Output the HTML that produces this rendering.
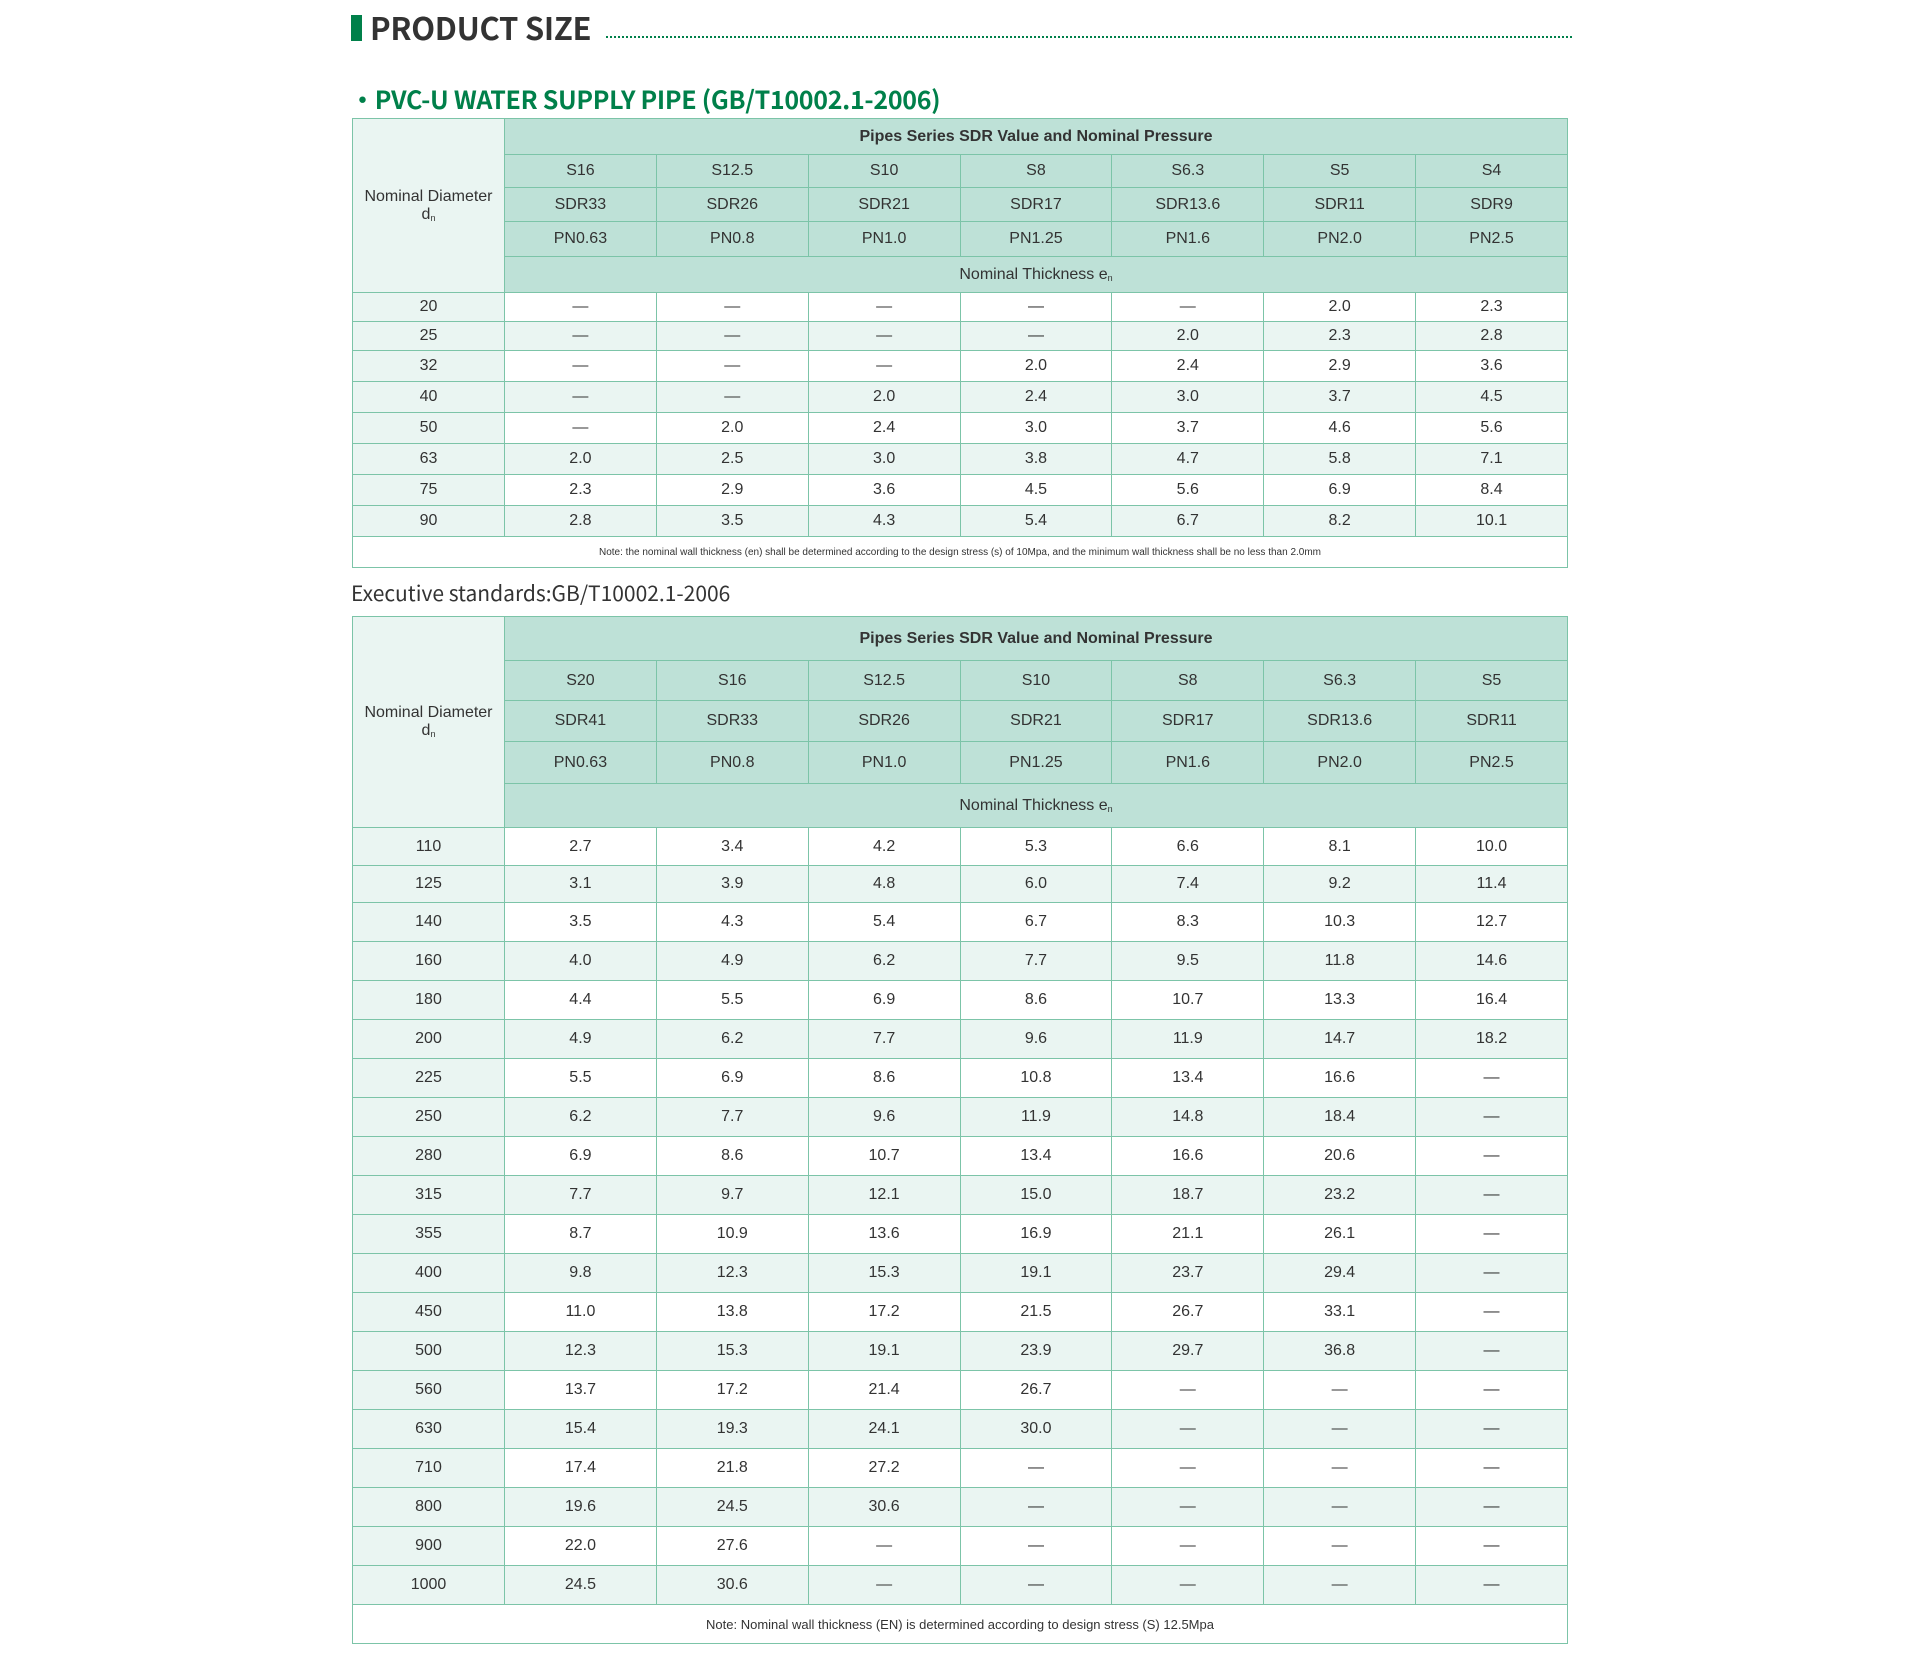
<!DOCTYPE html>
<html><head><meta charset="utf-8"><style>
body{margin:0;width:1920px;height:1654px;background:#fff;position:relative;font-family:"Liberation Sans",Arial,sans-serif;color:#333;overflow:hidden}
.abs{position:absolute}
table{position:absolute;left:352px;width:1216px;border-collapse:collapse;table-layout:fixed}
td{border:1px solid #7cc4a8;text-align:center;padding:0;font-size:16px;color:#333}
.h{background:#bee1d7}
.fc{background:#eaf5f2}
tr.e td{background:#eaf5f2}
tr.o td{background:#fff}
tr.o td.fc{background:#eaf5f2}
.b{font-weight:bold}
sub{font-size:9px;vertical-align:-2px}
</style></head><body>
<div class="abs" style="left:351px;top:15px;width:11px;height:26px;background:#00804a"></div>
<div class="abs" style="left:370px;top:7px;font-family:'Noto Sans CJK SC',sans-serif;font-weight:bold;font-size:31px;line-height:40px;color:#333;letter-spacing:-0.3px">PRODUCT SIZE</div>
<div class="abs" style="left:606px;top:36px;width:966px;border-top:2px dotted #00804a"></div>
<div class="abs" style="left:350px;top:81px;font-family:'Noto Sans CJK SC',sans-serif;font-weight:bold;font-size:25px;line-height:36px;color:#00804a;letter-spacing:-0.3px">·PVC-U WATER SUPPLY PIPE (GB/T10002.1-2006)</div>

<table style="top:118px">
<colgroup><col style="width:152px"><col><col><col><col><col><col><col></colgroup>
<tr style="height:36px"><td class="fc" rowspan="5" style="font-size:16px">Nominal Diameter<br>d<sub>n</sub></td><td class="h b" colspan="7">Pipes Series SDR Value and Nominal Pressure</td></tr>
<tr style="height:33px" class="h"><td class="h">S16</td><td class="h">S12.5</td><td class="h">S10</td><td class="h">S8</td><td class="h">S6.3</td><td class="h">S5</td><td class="h">S4</td></tr>
<tr style="height:34px"><td class="h">SDR33</td><td class="h">SDR26</td><td class="h">SDR21</td><td class="h">SDR17</td><td class="h">SDR13.6</td><td class="h">SDR11</td><td class="h">SDR9</td></tr>
<tr style="height:35px"><td class="h">PN0.63</td><td class="h">PN0.8</td><td class="h">PN1.0</td><td class="h">PN1.25</td><td class="h">PN1.6</td><td class="h">PN2.0</td><td class="h">PN2.5</td></tr>
<tr style="height:36px"><td class="h" colspan="7">Nominal Thickness e<sub>n</sub></td></tr>
<tr class="o" style="height:29px"><td class="fc">20</td><td>—</td><td>—</td><td>—</td><td>—</td><td>—</td><td>2.0</td><td>2.3</td></tr>
<tr class="e" style="height:29px"><td>25</td><td>—</td><td>—</td><td>—</td><td>—</td><td>2.0</td><td>2.3</td><td>2.8</td></tr>
<tr class="o" style="height:31px"><td class="fc">32</td><td>—</td><td>—</td><td>—</td><td>2.0</td><td>2.4</td><td>2.9</td><td>3.6</td></tr>
<tr class="e" style="height:31px"><td>40</td><td>—</td><td>—</td><td>2.0</td><td>2.4</td><td>3.0</td><td>3.7</td><td>4.5</td></tr>
<tr class="o" style="height:31px"><td class="fc">50</td><td>—</td><td>2.0</td><td>2.4</td><td>3.0</td><td>3.7</td><td>4.6</td><td>5.6</td></tr>
<tr class="e" style="height:31px"><td>63</td><td>2.0</td><td>2.5</td><td>3.0</td><td>3.8</td><td>4.7</td><td>5.8</td><td>7.1</td></tr>
<tr class="o" style="height:31px"><td class="fc">75</td><td>2.3</td><td>2.9</td><td>3.6</td><td>4.5</td><td>5.6</td><td>6.9</td><td>8.4</td></tr>
<tr class="e" style="height:31px"><td>90</td><td>2.8</td><td>3.5</td><td>4.3</td><td>5.4</td><td>6.7</td><td>8.2</td><td>10.1</td></tr>
<tr style="height:31px"><td colspan="8" style="font-size:10px;background:#fff">Note: the nominal wall thickness (en) shall be determined according to the design stress (s) of 10Mpa, and the minimum wall thickness shall be no less than 2.0mm</td></tr>
</table>

<div class="abs" style="left:351px;top:578px;font-family:'Noto Sans CJK SC',sans-serif;font-size:21px;line-height:30px;color:#333">Executive standards:GB/T10002.1-2006</div>

<table style="top:616px">
<colgroup><col style="width:152px"><col><col><col><col><col><col><col></colgroup>
<tr style="height:44px"><td class="fc" rowspan="5">Nominal Diameter<br>d<sub>n</sub></td><td class="h b" colspan="7">Pipes Series SDR Value and Nominal Pressure</td></tr>
<tr style="height:40px"><td class="h">S20</td><td class="h">S16</td><td class="h">S12.5</td><td class="h">S10</td><td class="h">S8</td><td class="h">S6.3</td><td class="h">S5</td></tr>
<tr style="height:41px"><td class="h">SDR41</td><td class="h">SDR33</td><td class="h">SDR26</td><td class="h">SDR21</td><td class="h">SDR17</td><td class="h">SDR13.6</td><td class="h">SDR11</td></tr>
<tr style="height:42px"><td class="h">PN0.63</td><td class="h">PN0.8</td><td class="h">PN1.0</td><td class="h">PN1.25</td><td class="h">PN1.6</td><td class="h">PN2.0</td><td class="h">PN2.5</td></tr>
<tr style="height:44px"><td class="h" colspan="7">Nominal Thickness e<sub>n</sub></td></tr>
<tr class="o" style="height:38px"><td class="fc">110</td><td>2.7</td><td>3.4</td><td>4.2</td><td>5.3</td><td>6.6</td><td>8.1</td><td>10.0</td></tr>
<tr class="e" style="height:37px"><td>125</td><td>3.1</td><td>3.9</td><td>4.8</td><td>6.0</td><td>7.4</td><td>9.2</td><td>11.4</td></tr>
<tr class="o" style="height:39px"><td class="fc">140</td><td>3.5</td><td>4.3</td><td>5.4</td><td>6.7</td><td>8.3</td><td>10.3</td><td>12.7</td></tr>
<tr class="e" style="height:39px"><td>160</td><td>4.0</td><td>4.9</td><td>6.2</td><td>7.7</td><td>9.5</td><td>11.8</td><td>14.6</td></tr>
<tr class="o" style="height:39px"><td class="fc">180</td><td>4.4</td><td>5.5</td><td>6.9</td><td>8.6</td><td>10.7</td><td>13.3</td><td>16.4</td></tr>
<tr class="e" style="height:39px"><td>200</td><td>4.9</td><td>6.2</td><td>7.7</td><td>9.6</td><td>11.9</td><td>14.7</td><td>18.2</td></tr>
<tr class="o" style="height:39px"><td class="fc">225</td><td>5.5</td><td>6.9</td><td>8.6</td><td>10.8</td><td>13.4</td><td>16.6</td><td>—</td></tr>
<tr class="e" style="height:39px"><td>250</td><td>6.2</td><td>7.7</td><td>9.6</td><td>11.9</td><td>14.8</td><td>18.4</td><td>—</td></tr>
<tr class="o" style="height:39px"><td class="fc">280</td><td>6.9</td><td>8.6</td><td>10.7</td><td>13.4</td><td>16.6</td><td>20.6</td><td>—</td></tr>
<tr class="e" style="height:39px"><td>315</td><td>7.7</td><td>9.7</td><td>12.1</td><td>15.0</td><td>18.7</td><td>23.2</td><td>—</td></tr>
<tr class="o" style="height:39px"><td class="fc">355</td><td>8.7</td><td>10.9</td><td>13.6</td><td>16.9</td><td>21.1</td><td>26.1</td><td>—</td></tr>
<tr class="e" style="height:39px"><td>400</td><td>9.8</td><td>12.3</td><td>15.3</td><td>19.1</td><td>23.7</td><td>29.4</td><td>—</td></tr>
<tr class="o" style="height:39px"><td class="fc">450</td><td>11.0</td><td>13.8</td><td>17.2</td><td>21.5</td><td>26.7</td><td>33.1</td><td>—</td></tr>
<tr class="e" style="height:39px"><td>500</td><td>12.3</td><td>15.3</td><td>19.1</td><td>23.9</td><td>29.7</td><td>36.8</td><td>—</td></tr>
<tr class="o" style="height:39px"><td class="fc">560</td><td>13.7</td><td>17.2</td><td>21.4</td><td>26.7</td><td>—</td><td>—</td><td>—</td></tr>
<tr class="e" style="height:39px"><td>630</td><td>15.4</td><td>19.3</td><td>24.1</td><td>30.0</td><td>—</td><td>—</td><td>—</td></tr>
<tr class="o" style="height:39px"><td class="fc">710</td><td>17.4</td><td>21.8</td><td>27.2</td><td>—</td><td>—</td><td>—</td><td>—</td></tr>
<tr class="e" style="height:39px"><td>800</td><td>19.6</td><td>24.5</td><td>30.6</td><td>—</td><td>—</td><td>—</td><td>—</td></tr>
<tr class="o" style="height:39px"><td class="fc">900</td><td>22.0</td><td>27.6</td><td>—</td><td>—</td><td>—</td><td>—</td><td>—</td></tr>
<tr class="e" style="height:39px"><td>1000</td><td>24.5</td><td>30.6</td><td>—</td><td>—</td><td>—</td><td>—</td><td>—</td></tr>
<tr style="height:39px"><td colspan="8" style="font-size:13px;background:#fff">Note: Nominal wall thickness (EN) is determined according to design stress (S) 12.5Mpa</td></tr>
</table>
</body></html>
